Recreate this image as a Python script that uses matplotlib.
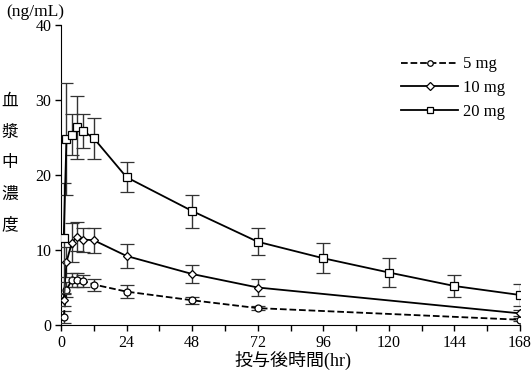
import matplotlib
matplotlib.use('Agg')
import matplotlib.pyplot as plt
from matplotlib.ticker import MultipleLocator

plt.rcParams['font.family'] = ['Liberation Serif', 'Noto Sans CJK JP']

t_low = [1, 2, 4, 6, 8, 12, 24, 48, 72, 168]
t_high = [1, 2, 4, 6, 8, 12, 24, 48, 72, 96, 120, 144, 168]

mg5 = [1.1, 4.7, 6.0, 6.0, 5.9, 5.4, 4.45, 3.3, 2.25, 0.7]
mg5_sd = [0.8, 1.0, 0.9, 0.9, 0.8, 0.8, 0.85, 0.5, 0.3, 0.2]

mg10 = [3.4, 8.4, 11.0, 11.8, 11.4, 11.3, 9.2, 6.8, 5.0, 1.55]
mg10_sd = [0.8, 2.0, 2.6, 1.9, 1.6, 1.65, 1.6, 1.2, 1.1, 0.4]

mg20 = [11.6, 24.8, 25.4, 26.4, 25.9, 24.9, 19.7, 15.2, 11.1, 8.9, 7.0, 5.2, 4.0]
mg20_sd = [7.3, 7.5, 2.7, 4.2, 2.3, 2.7, 2.0, 2.2, 1.8, 2.0, 1.9, 1.45, 1.45]

fig = plt.figure(figsize=(5.32, 3.75), dpi=100)
ax = fig.add_axes([61 / 532, 1 - 325 / 375, 459 / 532, 300 / 375])

eb = dict(color='black', ecolor='#333333', elinewidth=1, capsize=5, capthick=1,
          markerfacecolor='white', markeredgecolor='black', markeredgewidth=0.9, lw=1.3)
ax.errorbar(t_low, mg5, yerr=mg5_sd, fmt='o', ls='--', ms=5, label='5 mg', zorder=3, **eb)
ax.errorbar(t_low, mg10, yerr=mg10_sd, fmt='D', ls='-', ms=4.5, label='10 mg', zorder=4, **eb)
ax.errorbar(t_high, mg20, yerr=mg20_sd, fmt='s', ls='-', ms=5.5, label='20 mg', zorder=5, **eb)

ax.set_xlim(0, 168)
ax.set_ylim(0, 40)
ax.xaxis.set_major_locator(MultipleLocator(24))
ax.xaxis.set_minor_locator(MultipleLocator(12))
ax.yaxis.set_major_locator(MultipleLocator(10))
ax.tick_params(direction='out', length=4, width=1, labelsize=11.5, colors='black', pad=3)
ax.tick_params(which='minor', direction='out', length=4, width=1)
ax.spines['top'].set_visible(False)
ax.spines['right'].set_visible(False)

handles, labels = ax.get_legend_handles_labels()
handles = [h[0] for h in handles]
leg = ax.legend(handles, labels, loc='upper right', bbox_to_anchor=(1.0, 0.945),
                frameon=False, fontsize=12, handlelength=3.4, markerscale=0.8,
                labelspacing=0.45, handletextpad=0.3)

fig.text(35 / 532, 1 - 12 / 375, '(ng/mL)', ha='center', va='center', fontsize=12.5)
for i, ch in enumerate('血漿中濃度'):
    fig.text(10 / 532, 1 - (101 + i * 31) / 375, ch, ha='center', va='center',
             fontsize=12, family=['Noto Sans CJK JP'])
fig.text(293 / 532, 1 - 360 / 375, '投与後時間(hr)', ha='center', va='center', fontsize=13)

fig.savefig('out.png', dpi=100)
